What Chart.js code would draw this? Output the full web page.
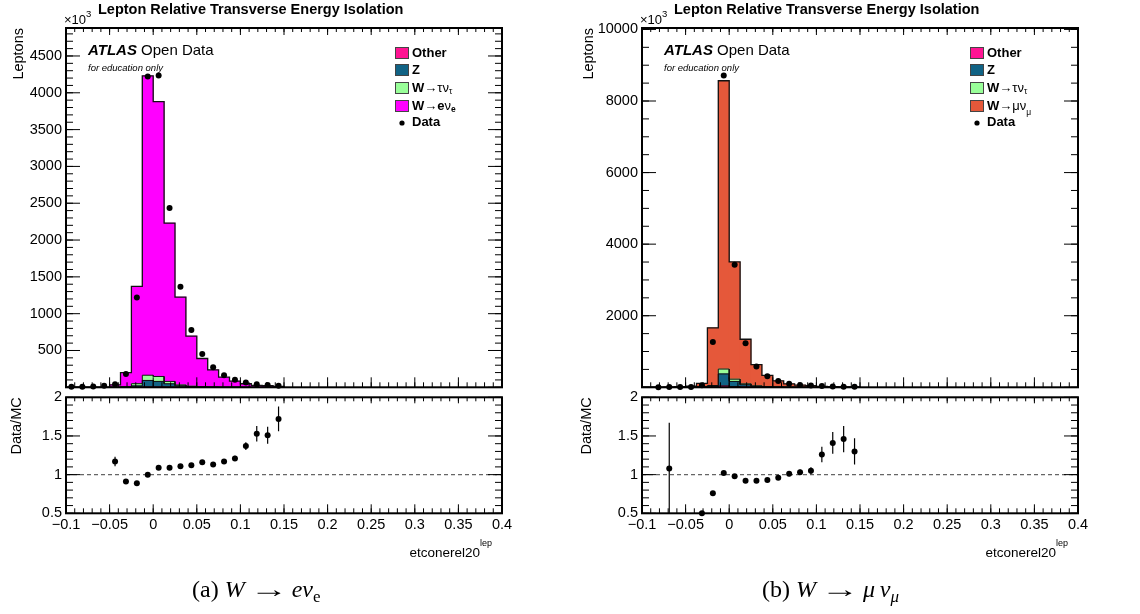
<!DOCTYPE html>
<html>
<head>
<meta charset="utf-8">
<script src="https://cdn.jsdelivr.net/npm/chart.js@4.4.1/dist/chart.umd.min.js"></script>
<style>
  body { margin: 0; background: #fff; width: 1140px; height: 614px; position: relative; overflow: hidden; }
  canvas { position: absolute; }
  .cap { position: absolute; top: 576px; font-family: 'Liberation Serif', 'Times New Roman', serif; font-size: 24px; color: #000; white-space: nowrap; }
  .cap sub { font-size: 17px; vertical-align: -5px; }
  .cap .ar { display: inline-block; transform: scaleX(1.6); margin: 0 11px 0 12px; }
</style>
</head>
<body>
<canvas id="topE" width="570" height="400" style="left:0;top:0"></canvas>
<canvas id="ratioE" width="570" height="234" style="left:0;top:380px"></canvas>
<canvas id="topM" width="570" height="400" style="left:570px;top:0"></canvas>
<canvas id="ratioM" width="570" height="234" style="left:570px;top:380px"></canvas>
<div class="cap" style="left:192px">(a) <i>W</i><span class="ar">&rarr;</span><i>e&nu;</i><sub>e</sub></div>
<div class="cap" style="left:762px">(b) <i>W</i><span class="ar">&rarr;</span><i>&mu;&thinsp;&nu;</i><sub><i>&mu;</i></sub></div>
<script>
const FONT = "'Liberation Sans', Arial, Helvetica, sans-serif"
Chart.defaults.font.family = FONT
Chart.defaults.color = '#000'

// bins of etconerel20, width 0.0125 from -0.1 to 0.15
const binW = 0.0125
const binCenters = [-0.09375, -0.08125, -0.06875, -0.05625, -0.04375, -0.03125, -0.01875, -0.00625,
  0.00625, 0.01875, 0.03125, 0.04375, 0.05625, 0.06875, 0.08125, 0.09375, 0.10625, 0.11875, 0.13125, 0.14375]

// W -> e nu (leptons x 10^3)
const otherE = [0, 0, 0, 0, 0, 0, 1, 5, 5, 3, 2, 1, 0, 0, 0, 0, 0, 0, 0, 0]
const zE = [0, 0, 0, 0, 1, 3, 18, 88, 75, 45, 18, 8, 4, 2, 1, 1, 0, 0, 0, 0]
const tauE = [0, 0, 0, 0, 1, 4, 30, 71, 67, 32, 12, 6, 3, 2, 1, 1, 0, 0, 0, 0]
const sigE = [0, 0, 0, 0, 32, 192, 1321, 4066, 3733, 2150, 1193, 680, 384, 233, 135, 82, 48, 26, 21, 13]
const dataE = [8, 8, 12, 20, 40, 182, 1221, 4220, 4235, 2435, 1364, 777, 453, 271, 164, 102, 66, 40, 31, 22]
const ratioE = [null, null, null, null, 1.17, 0.91, 0.89, 1.0, 1.09, 1.09, 1.11, 1.12, 1.16, 1.13, 1.17, 1.21, 1.37, 1.53, 1.51, 1.72]
const ratioErrE = [0, 0, 0, 0, 0.06, 0.02, 0.01, 0.005, 0.005, 0.01, 0.01, 0.015, 0.02, 0.02, 0.03, 0.035, 0.05, 0.1, 0.11, 0.16]

// W -> mu nu (leptons x 10^3)
const otherM = [0, 0, 0, 0, 0, 2, 5, 40, 20, 10, 5, 2, 1, 0, 0, 0, 0, 0, 0, 0]
const zM = [0, 0, 0, 0, 3, 10, 25, 333, 144, 62, 25, 10, 5, 2, 1, 1, 0, 0, 0, 0]
const tauM = [0, 0, 0, 0, 2, 8, 20, 137, 63, 25, 10, 4, 2, 1, 1, 0, 0, 0, 0, 0]
const sigM = [0, 0, 5, 15, 25, 90, 1612, 8056, 3275, 1246, 593, 318, 173, 95, 59, 44, 26, 17, 12, 9]
const dataM = [0, 4, 5, 5, 8, 55, 1268, 8712, 3425, 1233, 584, 310, 173, 99, 63, 47, 33, 24, 18, 12]
const ratioM = [null, null, 1.08, null, null, 0.5, 0.76, 1.02, 0.98, 0.92, 0.92, 0.93, 0.96, 1.01, 1.03, 1.05, 1.26, 1.41, 1.46, 1.30]
const ratioErrM = [0, 0, 0.59, 0, 0, 0.03, 0.02, 0.01, 0.01, 0.015, 0.015, 0.02, 0.025, 0.03, 0.035, 0.045, 0.1, 0.14, 0.17, 0.17]

// tick labels
const xTicks = [-0.1, -0.05, 0, 0.05, 0.1, 0.15, 0.2, 0.25, 0.3, 0.35, 0.4]
const yTicksE = [500, 1000, 1500, 2000, 2500, 3000, 3500, 4000, 4500]
const yTicksM = [2000, 4000, 6000, 8000, 10000]
const yTicksRatio = [0.5, 1, 1.5, 2]

const colors = { other: '#ff1493', z: '#116385', tau: '#99ff99', e: '#ff00ff', mu: '#e5583a' }

const extras = {}

// ROOT style frame with ticks pointing inside
const rootFrame = {
  id: 'rootFrame',
  afterDatasetsDraw(chart, args, o) {
    const { ctx, chartArea: a } = chart
    const xs = chart.scales.x, ys = chart.scales.y
    ctx.save()
    ctx.strokeStyle = '#000'
    ctx.lineWidth = 1
    const loop = (scale, step, fn) => {
      const n = Math.floor((scale.max - scale.min) / step + 1e-6)
      for (let k = 0; k <= n; k++) fn(scale.getPixelForValue(scale.min + k * step))
    }
    ctx.beginPath()
    loop(xs, o.xMinor, p => {
      ctx.moveTo(p, a.bottom); ctx.lineTo(p, a.bottom - o.xLen[1])
      ctx.moveTo(p, a.top); ctx.lineTo(p, a.top + o.xTop[1])
    })
    loop(xs, o.xMajor, p => {
      ctx.moveTo(p, a.bottom); ctx.lineTo(p, a.bottom - o.xLen[0])
      ctx.moveTo(p, a.top); ctx.lineTo(p, a.top + o.xTop[0])
    })
    loop(ys, o.yMinor, p => {
      ctx.moveTo(a.left, p); ctx.lineTo(a.left + o.yLen[1], p)
      ctx.moveTo(a.right, p); ctx.lineTo(a.right - o.yLen[1], p)
    })
    loop(ys, o.yMajor, p => {
      ctx.moveTo(a.left, p); ctx.lineTo(a.left + o.yLen[0], p)
      ctx.moveTo(a.right, p); ctx.lineTo(a.right - o.yLen[0], p)
    })
    ctx.stroke()
    ctx.lineWidth = 2
    ctx.strokeRect(a.left, a.top, a.right - a.left, a.bottom - a.top)
    ctx.restore()
  },
  afterDraw(chart) {
    const fn = extras[chart.canvas.id]
    if (fn) {
      chart.ctx.save()
      fn(chart.ctx, chart)
      chart.ctx.restore()
    }
  }
}

function parts(ctx, x, y, list) {
  ctx.textAlign = 'left'
  ctx.textBaseline = 'middle'
  list.forEach(([t, font, dy]) => {
    ctx.font = font + ' ' + FONT
    ctx.fillText(t, x, y + (dy || 0))
    x += ctx.measureText(t).width
  })
  return x
}

function drawLabels(ctx, x0, legX, sigParts, sigColor) {
  ctx.fillStyle = '#000'
  parts(ctx, x0 + 32, 10, [['Lepton Relative Transverse Energy Isolation', 'bold 14.5px']])
  parts(ctx, x0 - 2, 20, [['\u00d710', '13px'], ['3', '9.5px', -6]])
  parts(ctx, x0 + 22, 51, [['ATLAS', 'italic bold 15px'], [' Open Data', '15px']])
  parts(ctx, x0 + 22, 68, [['for education only', 'italic 9.5px']])

  const rows = [
    { color: colors.other, p: [['Other', 'bold 13px']] },
    { color: colors.z, p: [['Z', 'bold 13px']] },
    { color: colors.tau, p: [['W', 'bold 13px'], ['\u2192\u03c4\u03bd', '13px'], ['\u03c4', '8.5px', 4]] },
    { color: sigColor, p: sigParts },
    { dot: true, p: [['Data', 'bold 13px']] }
  ]
  const ys = [53, 70, 88, 106, 122]
  rows.forEach((r, i) => {
    const y = ys[i]
    if (r.dot) {
      ctx.beginPath()
      ctx.arc(legX + 7, y + 1, 2.6, 0, Math.PI * 2)
      ctx.fillStyle = '#000'
      ctx.fill()
    } else {
      ctx.fillStyle = r.color
      ctx.fillRect(legX, y - 6, 14, 12)
      ctx.strokeStyle = '#444'
      ctx.lineWidth = 1
      ctx.strokeRect(legX + 0.5, y - 5.5, 13, 11)
    }
    ctx.fillStyle = '#000'
    parts(ctx, legX + 17, y, r.p)
  })
}

function drawXTitle(ctx, chart) {
  const right = chart.chartArea.right - 10
  ctx.fillStyle = '#000'
  ctx.font = '9px ' + FONT
  const w2 = ctx.measureText('lep').width
  ctx.font = '13.5px ' + FONT
  const w1 = ctx.measureText('etconerel20').width
  parts(ctx, right - w1 - w2, 173, [['etconerel20', '13.5px'], ['lep', '9px', -9]])
}

function outline(vals) {
  const pts = [{ x: binCenters[0] - binW / 2, y: 0 }]
  vals.forEach((v, i) => {
    pts.push({ x: binCenters[i] - binW / 2, y: v })
    pts.push({ x: binCenters[i] + binW / 2, y: v })
  })
  pts.push({ x: binCenters[binCenters.length - 1] + binW / 2, y: 0 })
  return pts
}

function yAxis(ticksList, yMin, yMax, yWidth, title, titlePad) {
  return {
    min: yMin,
    max: yMax,
    afterFit: s => { s.width = yWidth },
    afterBuildTicks: s => { s.ticks = ticksList.map(v => ({ value: v })) },
    grid: { display: false, drawTicks: false },
    border: { display: false },
    ticks: { autoSkip: false, padding: 4, font: { size: 14.5 }, callback: v => String(+v.toFixed(2)) },
    title: { display: true, text: title, align: 'end', font: { size: 14.5 }, padding: { top: titlePad } }
  }
}

function makeTop(id, comps, data, yTicks, yMax, yMajor, yMinor, yWidth, padRight) {
  // stack of floating bars: each component sits on the sum of the ones below it
  let base = binCenters.map(() => 0)
  const bars = []
  const lines = []
  comps.forEach((c, k) => {
    const top = base.map((v, i) => v + c.vals[i])
    const lo = base
    bars.push({
      type: 'bar',
      data: binCenters.map((x, i) => ({ x: x, y: c.vals[i] > 0 ? [lo[i], top[i]] : null })),
      backgroundColor: c.color,
      borderWidth: 0,
      grouped: false,
      barPercentage: 1,
      categoryPercentage: 1,
      order: 10
    })
    lines.push({
      type: 'line',
      data: outline(top),
      borderColor: '#111',
      borderWidth: k === comps.length - 1 ? 1.3 : 1,
      pointRadius: 0,
      order: 5
    })
    base = top
  })
  const dots = {
    type: 'line',
    data: binCenters.map((x, i) => ({ x: x, y: data[i] > 0 ? data[i] : null })),
    showLine: false,
    pointRadius: 3,
    pointBackgroundColor: '#000',
    pointBorderColor: '#000',
    pointBorderWidth: 0,
    order: 0,
    clip: false
  }
  return new Chart(document.getElementById(id), {
    type: 'bar',
    data: { datasets: [...bars, ...lines, dots] },
    plugins: [rootFrame],
    options: {
      responsive: false,
      animation: false,
      events: [],
      layout: { padding: { left: 0, right: padRight, top: 28, bottom: 6 } },
      plugins: {
        legend: { display: false },
        tooltip: { enabled: false },
        rootFrame: { xMajor: 0.05, xMinor: 0.01, yMajor: yMajor, yMinor: yMinor, xLen: [10, 5], xTop: [7, 4], yLen: [14, 7] }
      },
      scales: {
        x: { type: 'linear', min: -0.1, max: 0.4, offset: false, display: false, grid: { offset: false } },
        y: yAxis(yTicks, 0, yMax, yWidth, 'Leptons', 10)
      }
    }
  })
}

function makeRatio(id, ratio, err, yWidth, padRight) {
  const bars = []
  binCenters.forEach((x, i) => {
    if (ratio[i] === null) return
    bars.push({ x: x, y: ratio[i] - err[i] }, { x: x, y: ratio[i] + err[i] }, { x: x, y: null })
  })
  return new Chart(document.getElementById(id), {
    type: 'line',
    data: {
      datasets: [
        {
          data: [{ x: xTicks[0], y: 1 }, { x: xTicks[xTicks.length - 1], y: 1 }],
          borderColor: '#666', borderWidth: 1.3, borderDash: [4, 3], pointRadius: 0, order: 3
        },
        { data: bars, borderColor: '#000', borderWidth: 1.2, pointRadius: 0, spanGaps: false, order: 2 },
        {
          data: binCenters.map((x, i) => ({ x: x, y: ratio[i] })),
          showLine: false, pointRadius: 3, pointBackgroundColor: '#000', pointBorderWidth: 0, order: 1, clip: false
        }
      ]
    },
    plugins: [rootFrame],
    options: {
      responsive: false,
      animation: false,
      events: [],
      layout: { padding: { left: 0, right: padRight, top: 17.3, bottom: 0 } },
      plugins: {
        legend: { display: false },
        tooltip: { enabled: false },
        rootFrame: { xMajor: 0.05, xMinor: 0.01, yMajor: 0.5, yMinor: 0.1, xLen: [9, 5], xTop: [6, 4], yLen: [14, 7] }
      },
      scales: {
        x: {
          type: 'linear', min: -0.1, max: 0.4,
          afterFit: s => { s.height = 100.7 },
          afterBuildTicks: s => { s.ticks = xTicks.map(v => ({ value: v })) },
          grid: { display: false, drawTicks: false },
          border: { display: false },
          ticks: {
            autoSkip: false, maxRotation: 0, padding: 3, font: { size: 14.5 },
            callback: v => String(+v.toFixed(3)).replace('-', '\u2212')
          }
        },
        y: yAxis(yTicksRatio, 0.5, 2, yWidth, 'Data/MC', 8)
      }
    }
  })
}

extras.topE = (ctx) => drawLabels(ctx, 66, 395,
  [['W', 'bold 13px'], ['\u2192', '13px'], ['e', 'bold 13px'], ['\u03bd', '13px'], ['e', 'bold 8.5px', 4]], colors.e)
extras.topM = (ctx) => drawLabels(ctx, 72, 400,
  [['W', 'bold 13px'], ['\u2192\u03bc\u03bd', '13px'], ['\u03bc', '8.5px', 7]], colors.mu)
extras.ratioE = (ctx, chart) => drawXTitle(ctx, chart)
extras.ratioM = (ctx, chart) => drawXTitle(ctx, chart)

makeTop('topE', [
  { vals: otherE, color: colors.other },
  { vals: zE, color: colors.z },
  { vals: tauE, color: colors.tau },
  { vals: sigE, color: colors.e }
], dataE, yTicksE, 4880, 500, 100, 66, 68)

makeTop('topM', [
  { vals: otherM, color: colors.other },
  { vals: zM, color: colors.z },
  { vals: tauM, color: colors.tau },
  { vals: sigM, color: colors.mu }
], dataM, yTicksM, 10040, 2000, 500, 72, 62)

makeRatio('ratioE', ratioE, ratioErrE, 66, 68)
makeRatio('ratioM', ratioM, ratioErrM, 72, 62)
</script>
</body>
</html>
